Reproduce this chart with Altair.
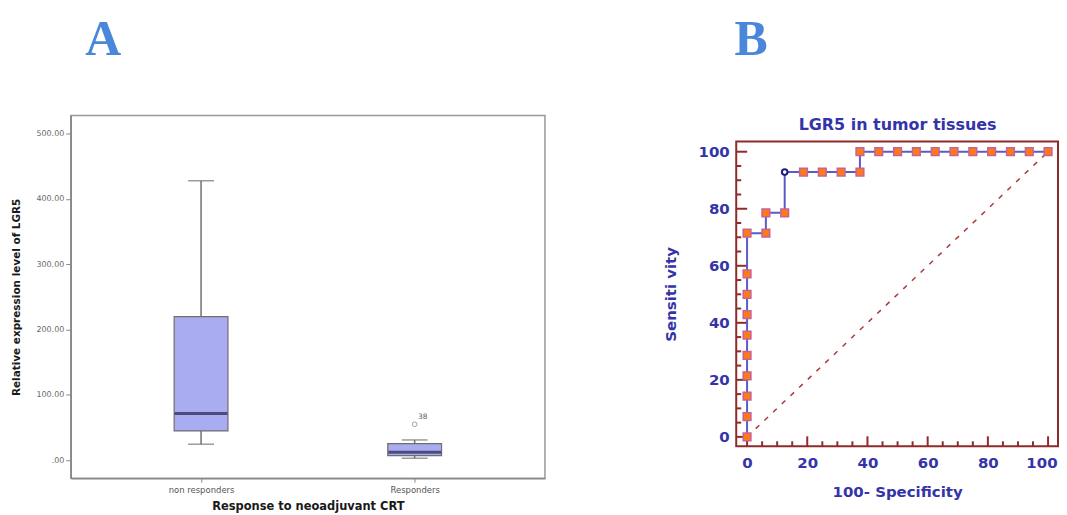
import altair as alt
import pandas as pd

# ---------------- Panel A : box plot ----------------
groups = ["non responders", "Responders"]
whisker_low = [24.5, 3.0]
q1 = [44.8, 7.0]
median = [71.4, 12.0]
q3 = [219.7, 25.5]
whisker_high = [427.7, 31.0]
outlier_group = ["Responders"]
outlier_value = [55.0]
outlier_label = ["38"]
a_ticks = [0, 100, 200, 300, 400, 500]

# ---------------- Panel B : ROC curve ----------------
roc_fpr = [0, 0, 0, 0, 0, 0, 0, 0, 0, 0,
           6.25, 6.25, 12.5, 12.5, 18.75, 25, 31.25, 37.5, 37.5,
           43.75, 50, 56.25, 62.5, 68.75, 75, 81.25, 87.5, 93.75, 100]
roc_tpr = [0, 7.14, 14.29, 21.43, 28.57, 35.71, 42.86, 50, 57.14, 71.43,
           71.43, 78.57, 78.57, 92.86, 92.86, 92.86, 92.86, 92.86, 100,
           100, 100, 100, 100, 100, 100, 100, 100, 100, 100]
roc_marker = ["square"] * 13 + ["circle"] + ["square"] * 15
diag_x = [0, 100]
diag_y = [0, 100]
b_major = [0, 20, 40, 60, 80, 100]
b_minor = [5, 10, 15, 25, 30, 35, 45, 50, 55, 65, 70, 75, 85, 90, 95]
b_title = ["LGR5 in tumor tissues"]

W_A, H_A = 476, 364
W_B, H_B = 323, 332      # B drawing area starts level with A's top
B_TOP = 26               # B frame top inside its area
TXT_B = "#3434A8"
FRAME_B = "#8E2B2B"
LETTER = "#4A86DA"
LETTER_Y = -101

# ---------- Panel A ----------
box_df = pd.DataFrame({"group": groups, "low": whisker_low, "q1": q1,
                       "median": median, "q3": q3, "high": whisker_high})
out_df = pd.DataFrame({"group": outlier_group, "value": outlier_value,
                       "label": outlier_label})
letterA = pd.DataFrame({"letter": ["A"]})

xA = alt.X("group:N",
           scale=alt.Scale(type="point", domain=groups, padding=0.61),
           axis=alt.Axis(title="Response to neoadjuvant CRT", labelAngle=0,
                         labelFont="DejaVu Sans", labelFontSize=8.5,
                         labelColor="#555555", labelPadding=3,
                         tickSize=4, tickColor="#888888",
                         domainColor="#888888", domainWidth=1.5,
                         titleFont="DejaVu Sans", titleFontSize=11.5,
                         titleFontWeight="bold", titleColor="#1a1a1a",
                         titlePadding=7))
yA_scale = alt.Scale(domain=[-27.5, 527.5], nice=False, zero=False)
yA_axis = alt.Axis(values=a_ticks, grid=False,
                   title="Relative expression level of LGR5",
                   labelExpr="datum.value == 0 ? '.00' : format(datum.value, '.2f')",
                   labelFont="DejaVu Sans", labelFontSize=8,
                   labelColor="#666666", labelPadding=2,
                   tickSize=5, tickColor="#888888",
                   domainColor="#888888", domainWidth=1.5,
                   titleFont="DejaVu Sans", titleFontSize=10.5,
                   titleFontWeight="bold", titleColor="#1a1a1a",
                   titlePadding=14)

whisk = alt.Chart(box_df).mark_rule(color="#707070", strokeWidth=1.5).encode(
    x=xA, y=alt.Y("low:Q", scale=yA_scale, axis=yA_axis), y2="high:Q")
caps_low = alt.Chart(box_df).mark_tick(color="#707070", size=26, thickness=1.5,
                                       orient="horizontal").encode(
    x="group:N", y="low:Q")
caps_high = alt.Chart(box_df).mark_tick(color="#707070", size=26, thickness=1.5,
                                        orient="horizontal").encode(
    x="group:N", y="high:Q")
boxes = alt.Chart(box_df).mark_bar(size=54, fill="#A9ACF0", stroke="#6E6E6E",
                                   strokeWidth=1.2).encode(
    x="group:N", y="q1:Q", y2="q3:Q")
meds = alt.Chart(box_df).mark_tick(color="#23234A", size=53, thickness=3,
                                   orient="horizontal").encode(
    x="group:N", y="median:Q")
outs = alt.Chart(out_df).mark_point(shape="circle", filled=False, size=22,
                                    color="#777777", strokeWidth=1).encode(
    x="group:N", y="value:Q")
out_txt = alt.Chart(out_df).mark_text(dx=8, dy=-7, fontSize=7.5,
                                      font="DejaVu Sans", color="#666666").encode(
    x="group:N", y="value:Q", text="label:N")
letA = alt.Chart(letterA).mark_text(font="Liberation Serif", fontSize=50,
                                    fontWeight="bold", color=LETTER,
                                    baseline="top", align="center").encode(
    text="letter:N", x=alt.value(32.5), y=alt.value(LETTER_Y))

panelA = alt.layer(whisk, caps_low, caps_high, boxes, meds, outs, out_txt, letA).properties(
    width=W_A, height=H_A,
    view=alt.ViewBackground(stroke="#999999", strokeWidth=1.5))

# ---------- Panel B ----------
roc_df = pd.DataFrame({"fpr": roc_fpr, "tpr": roc_tpr, "marker": roc_marker,
                       "order": list(range(len(roc_fpr)))})
diag_df = pd.DataFrame({"fpr": diag_x, "tpr": diag_y})
xmaj_df = pd.DataFrame({"fpr": b_major})
xmin_df = pd.DataFrame({"fpr": b_minor})
ymaj_df = pd.DataFrame({"tpr": b_major})
ymin_df = pd.DataFrame({"tpr": b_minor})
letterB = pd.DataFrame({"letter": ["B"]})
title_df = pd.DataFrame({"t": b_title})
frame_df = pd.DataFrame({"k": [1]})

xB_scale = alt.Scale(domain=[-3.6, 103.3], nice=False, zero=False)
yB_scale = alt.Scale(domain=[-3.3, 103.6], nice=False, zero=False,
                     range=[H_B, B_TOP])
xB_axis = alt.Axis(values=b_major, grid=False, domain=False, ticks=False,
                   title="100- Specificity", labelFont="DejaVu Sans",
                   labelFontSize=15, labelFontWeight="bold", labelColor=TXT_B,
                   labelPadding=9, labelFlush=10.5, labelFlushOffset=9,
                   titleFont="DejaVu Sans", titleFontSize=15,
                   titleFontWeight="bold", titleColor=TXT_B, titlePadding=14)
yB_axis = alt.Axis(values=b_major, grid=False, domain=False, ticks=False,
                   title="Sensiti vity", labelFont="DejaVu Sans",
                   labelFontSize=15, labelFontWeight="bold", labelColor=TXT_B,
                   labelPadding=7, titleFont="DejaVu Sans", titleFontSize=15,
                   titleFontWeight="bold", titleColor=TXT_B, titlePadding=20)

diag = alt.Chart(diag_df).mark_line(color="#A83A3A", strokeWidth=1.5,
                                    strokeDash=[5, 7]).encode(
    x=alt.X("fpr:Q", scale=xB_scale, axis=xB_axis),
    y=alt.Y("tpr:Q", scale=yB_scale, axis=yB_axis))
frame = alt.Chart(frame_df).mark_rect(fillOpacity=0, stroke=FRAME_B,
                                      strokeWidth=2).encode(
    x=alt.value(0), x2=alt.value(W_B), y=alt.value(B_TOP), y2=alt.value(H_B))
roc_line = alt.Chart(roc_df).mark_line(color="#5B5BC8", strokeWidth=2).encode(
    x="fpr:Q", y="tpr:Q", order="order:Q")
squares = alt.Chart(roc_df).transform_filter("datum.marker == 'square'").mark_square(
    filled=True, size=60, fill="#FF7A12", stroke="#C4639A", strokeWidth=1.5,
    opacity=1).encode(x="fpr:Q", y="tpr:Q")
circle = alt.Chart(roc_df).transform_filter("datum.marker == 'circle'").mark_point(
    shape="circle", filled=False, size=32, color="#1E1E80", strokeWidth=2,
    fill="white", fillOpacity=1).encode(x="fpr:Q", y="tpr:Q")
xt_major = alt.Chart(xmaj_df).mark_rule(color=FRAME_B, strokeWidth=2).encode(
    x="fpr:Q", y=alt.value(H_B), y2=alt.value(H_B - 10))
xt_minor = alt.Chart(xmin_df).mark_rule(color=FRAME_B, strokeWidth=2).encode(
    x="fpr:Q", y=alt.value(H_B), y2=alt.value(H_B - 5))
yt_major = alt.Chart(ymaj_df).mark_rule(color=FRAME_B, strokeWidth=2).encode(
    y="tpr:Q", x=alt.value(0), x2=alt.value(11))
yt_minor = alt.Chart(ymin_df).mark_rule(color=FRAME_B, strokeWidth=2).encode(
    y="tpr:Q", x=alt.value(0), x2=alt.value(5))
letB = alt.Chart(letterB).mark_text(font="Liberation Serif", fontSize=50,
                                    fontWeight="bold", color=LETTER,
                                    baseline="top", align="center").encode(
    text="letter:N", x=alt.value(15), y=alt.value(LETTER_Y))
titleB = alt.Chart(title_df).mark_text(font="DejaVu Sans", fontSize=16,
                                       fontWeight="bold", color=TXT_B,
                                       baseline="middle", align="center").encode(
    text="t:N", x=alt.value(162), y=alt.value(10))

panelB = alt.layer(diag, frame, xt_major, xt_minor, yt_major, yt_minor, roc_line,
                   squares, circle, letB, titleB).properties(
    width=W_B, height=H_B,
    view=alt.ViewBackground(strokeOpacity=0))

chart = alt.hconcat(panelA, panelB, spacing=117).properties(
    padding={"left": 3, "top": 5, "right": 0, "bottom": 0},
    background="white")

chart.save("out.html", embed_options={"renderer": "svg", "actions": False})
